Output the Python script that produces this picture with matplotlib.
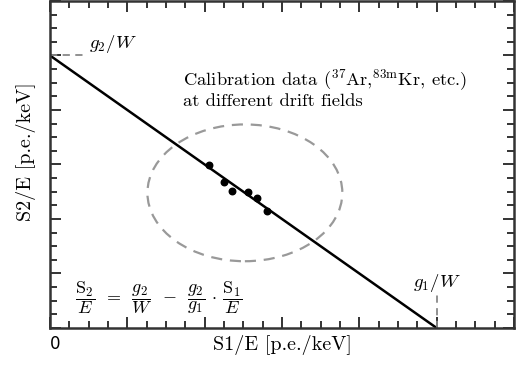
import numpy as np
import matplotlib
matplotlib.use("Agg")
import matplotlib.pyplot as plt
from matplotlib.patches import Ellipse
from matplotlib.ticker import MultipleLocator

plt.rcParams['mathtext.fontset'] = 'cm'
plt.rcParams['font.family'] = 'serif'
plt.rcParams['font.serif'] = ['cmr10', 'DejaVu Serif']

# --- data (in units of major ticks) ---
g2_over_W = 5.0
g1_over_W = 5.0
line_x = [0.0, g1_over_W]
line_y = [g2_over_W, 0.0]
calib_x = [2.06, 2.25, 2.35, 2.56, 2.68, 2.81]
calib_y = [2.99, 2.67, 2.51, 2.49, 2.38, 2.14]
ellipse_center = (2.52, 2.48)
ellipse_size = (2.52, 2.51)

fig = plt.figure(figsize=(5.18, 3.67), dpi=100)
ax = fig.add_axes([0.0965, 0.1063, 0.8958, 0.891])
ax.set_xlim(0, 6)
ax.set_ylim(0, 6)

spine_col = '#333333'
for s in ax.spines.values():
    s.set_linewidth(1.8)
    s.set_color(spine_col)

ax.xaxis.set_major_locator(MultipleLocator(1))
ax.xaxis.set_minor_locator(MultipleLocator(0.25))
ax.yaxis.set_major_locator(MultipleLocator(1))
ax.yaxis.set_minor_locator(MultipleLocator(0.25))
ax.tick_params(which='both', direction='in', top=True, right=True,
               color=spine_col, width=1.4, labelbottom=False, labelleft=False)
ax.tick_params(which='major', length=8)
ax.tick_params(which='minor', length=5)

# main relation
ax.plot(line_x, line_y, color='black', lw=1.8, solid_capstyle='butt')
ax.scatter(calib_x, calib_y, s=22, color='black', zorder=3)

ell = Ellipse(ellipse_center, ellipse_size[0], ellipse_size[1], fill=False,
              ls=(0, (5, 3.5)), lw=1.6, color='#999999')
ax.add_patch(ell)

# intercept markers
ax.plot([0, 0.45], [g2_over_W, g2_over_W], color='#888888', lw=1.3, ls=(0, (4, 3)))
ax.text(0.5, g2_over_W, r'$g_2/W$', fontsize=13.5, va='bottom', ha='left')
ax.plot([g1_over_W, g1_over_W], [0, 0.6], color='#888888', lw=1.3, ls=(0, (4, 3)))
ax.text(g1_over_W, 0.62, r'$g_1/W$', fontsize=13.5, va='bottom', ha='center')

ax.text(1.72, 4.4, r'Calibration data ($^{37}$Ar,$^{83\mathrm{m}}$Kr, etc.)' + '\n'
        + 'at different drift fields', fontsize=13.4, va='center', ha='left',
        linespacing=1.1)

ax.text(0.32, 0.55, r'$\dfrac{\mathrm{S}_2}{E}\ \,=\ \,\dfrac{g_2}{W}\ \,-\ \,\dfrac{g_2}{g_1}\,\cdot\,\dfrac{\mathrm{S}_1}{E}$',
        fontsize=13, va='center', ha='left')

ax.text(0.0, -0.12, '0', family='DejaVu Sans', fontsize=12, ha='left', va='top')
ax.set_xlabel('S1/E [p.e./keV]', fontsize=14.5, labelpad=5)
ax.set_ylabel('S2/E [p.e./keV]', fontsize=14.5)
ax.yaxis.set_label_coords(-0.03, 0.54)

fig.savefig('out.png', dpi=100)
